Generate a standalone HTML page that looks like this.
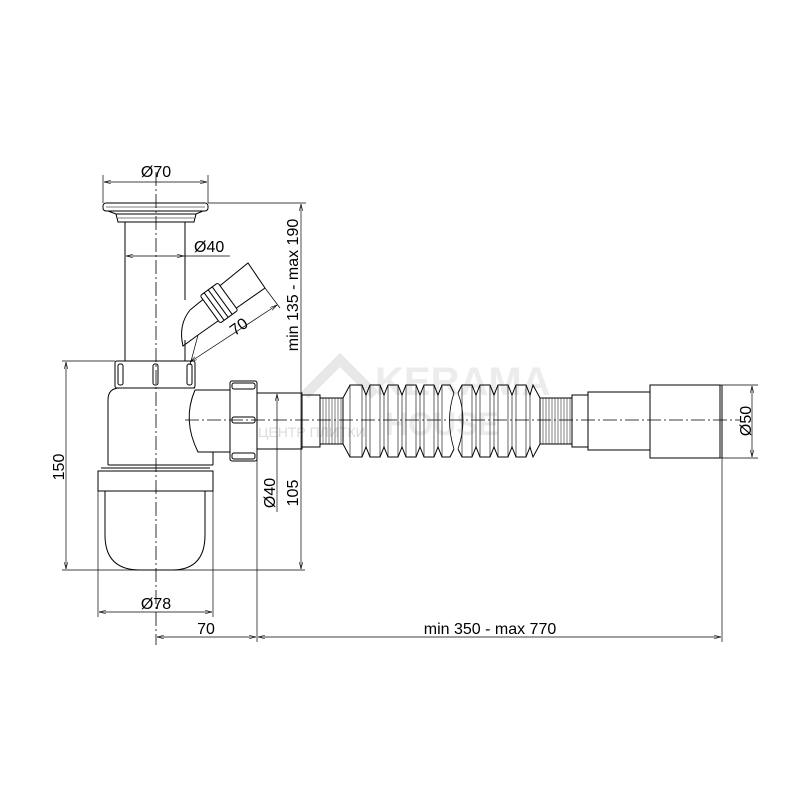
<!DOCTYPE html>
<html><head><meta charset="utf-8"><style>body{margin:0;background:#fff}svg{display:block}</style></head><body>
<svg width="800" height="800" viewBox="0 0 800 800" xmlns="http://www.w3.org/2000/svg" font-family="Liberation Sans, sans-serif">
<defs><marker id="a" viewBox="0 0 10 6" refX="10" refY="3" markerWidth="10" markerHeight="6" orient="auto-start-reverse"><path d="M0,0.5L10,3L0,5.5" fill="none" stroke="#000" stroke-width="0.8"/></marker></defs>
<rect width="800" height="800" fill="#fff"/>
<g fill="#ececec" stroke="none">
<text x="375" y="395" font-size="40" font-weight="bold">KERAMA</text>
<text x="385" y="435" font-size="32" font-weight="bold">HOUSE</text>
<text x="258" y="437" font-size="14" fill="#dcdcdc">ЦЕНТР ПЛИТКИ</text>
<path d="M305,395L340,360L375,395" fill="none" stroke="#e8e8e8" stroke-width="10"/>
</g>
<g fill="none" stroke="#000" stroke-width="1">
<line x1="156" y1="172" x2="156" y2="645" stroke-dasharray="14,3,2,3" stroke-width="0.8"/>
<line x1="185" y1="420" x2="740" y2="420" stroke-dasharray="14,3,2,3" stroke-width="0.8"/>
<rect x="103" y="203" width="105" height="8" rx="3"/>
<line x1="106" y1="207" x2="205" y2="207" stroke-width="0.6"/>
<path d="M108,211 L116,214 L196,214 L203,211"/>
<path d="M116,214 L118,222 L194,222 L196,214"/>
<line x1="118" y1="218" x2="194" y2="218" stroke-width="0.6"/>
<line x1="125" y1="222" x2="125" y2="361"/>
<line x1="185" y1="222" x2="185" y2="300"/>
<line x1="185" y1="340" x2="185" y2="361"/>
<path d="M190,310 L248,263 L265,288 L198,335"/>
<path d="M190,310 Q178,325 183,346 L198,335"/>
<g transform="translate(219,303) rotate(-36)">
<rect x="-11" y="-17" width="22" height="34" rx="2" fill="#fff"/>
<line x1="-6" y1="-17" x2="-6" y2="17"/><line x1="-1" y1="-17" x2="-1" y2="17"/><line x1="4" y1="-17" x2="4" y2="17"/>
</g>
<rect x="115" y="361" width="80" height="27" rx="2"/>
<rect x="118" y="364" width="5" height="21" rx="2"/><rect x="153" y="364" width="5" height="21" rx="2"/><rect x="187" y="364" width="5" height="21" rx="2"/>
<path d="M108,465 L108,400 Q108,388 120,388 L195,388"/>
<path d="M213,465 L213,452"/>
<path d="M195,390 Q182,420 198,452 L213,452 L230,452"/>
<path d="M195,390 L230,390"/>
<path d="M108,465 L213,465"/>
<rect x="230" y="381" width="27" height="80" rx="2"/>
<rect x="232" y="383" width="23" height="6" rx="2"/><rect x="232" y="417" width="23" height="6" rx="2"/><rect x="232" y="453" width="23" height="6" rx="2"/>
<rect x="257" y="393" width="45" height="56"/>
<rect x="302" y="395" width="18" height="52"/>
<rect x="320" y="398" width="23" height="46"/>
<rect x="540" y="398" width="32" height="46"/>
<path d="M323,398v46M326,398v46M329,398v46M332,398v46M335,398v46M338,398v46M341,398v46M543,398v46M546,398v46M549,398v46M552,398v46M555,398v46M558,398v46M561,398v46M564,398v46M567,398v46M570,398v46" stroke-width="0.5"/>
<path d="M343,398 L350,385 L362,385 L366,395 L370,385 L380,385 L384,395 L388,385 L398,385 L402,395 L406,385 L416,385 L420,395 L424,385 L434,385 L438,395 L442,385 L450,385 L454,393 M458,393 L462,385 L472,385 L476,395 L480,385 L490,385 L494,395 L498,385 L508,385 L512,395 L516,385 L526,385 L530,395 L533,385 L540,398"/>
<path d="M343,444 L350,457 L362,457 L366,447 L370,457 L380,457 L384,447 L388,457 L398,457 L402,447 L406,457 L416,457 L420,447 L424,457 L434,457 L438,447 L442,457 L450,457 L454,449 M458,449 L462,457 L472,457 L476,447 L480,457 L490,457 L494,447 L498,457 L508,457 L512,447 L516,457 L526,457 L530,447 L533,457 L540,444"/>
<path d="M366,395v52M384,395v52M402,395v52M420,395v52M438,395v52M476,395v52M494,395v52M512,395v52M530,395v52M350,385v72M362,385v72M370,385v72M380,385v72M388,385v72M398,385v72M406,385v72M416,385v72M424,385v72M434,385v72M442,385v72M462,385v72M472,385v72M480,385v72M490,385v72M498,385v72M508,385v72M516,385v72M526,385v72" stroke-width="0.6"/>
<path d="M454,393 Q445,420 454,449 M458,393 Q468,420 458,449" stroke-width="0.8"/>
<rect x="572" y="395" width="16" height="52"/>
<rect x="588" y="392" width="62" height="58"/>
<rect x="650" y="385" width="70" height="73"/>
<line x1="722" y1="385" x2="722" y2="458"/>
<rect x="98" y="471" width="115" height="20"/>
<line x1="101" y1="468" x2="210" y2="468"/>
<path d="M105,491 L105,535 Q105,570 140,570 L172,570 Q205,570 205,535 L205,491"/>
</g>
<g fill="none" stroke="#000" stroke-width="0.7">
<line x1="103" y1="175" x2="103" y2="203"/><line x1="208" y1="175" x2="208" y2="203"/>
<line x1="104" y1="182" x2="207" y2="182" marker-start="url(#a)" marker-end="url(#a)"/>
<line x1="126" y1="256" x2="184" y2="256" marker-start="url(#a)" marker-end="url(#a)"/>
<line x1="184" y1="256" x2="230" y2="256"/>
<line x1="208" y1="203" x2="306" y2="203"/>
<line x1="301" y1="204" x2="301" y2="420" marker-start="url(#a)"/>
<line x1="301" y1="420" x2="301" y2="569" marker-end="url(#a)"/>
<line x1="62" y1="361" x2="115" y2="361"/>
<line x1="66" y1="362" x2="66" y2="569" marker-start="url(#a)" marker-end="url(#a)"/>
<line x1="62" y1="570" x2="305" y2="570"/>
<line x1="277" y1="394" x2="277" y2="512" marker-start="url(#a)"/>
<line x1="257" y1="450" x2="257" y2="642"/>
<line x1="722" y1="458" x2="722" y2="642"/>
<line x1="720" y1="385" x2="758" y2="385"/><line x1="720" y1="458" x2="758" y2="458"/>
<line x1="752" y1="386" x2="752" y2="457" marker-start="url(#a)" marker-end="url(#a)"/>
<line x1="98" y1="491" x2="98" y2="617"/><line x1="213" y1="491" x2="213" y2="617"/>
<line x1="99" y1="612" x2="212" y2="612" marker-start="url(#a)" marker-end="url(#a)"/>
<line x1="157" y1="637" x2="256" y2="637" marker-start="url(#a)" marker-end="url(#a)"/>
<line x1="258" y1="637" x2="721" y2="637" marker-start="url(#a)" marker-end="url(#a)"/>
<line x1="198" y1="335" x2="190" y2="365"/><line x1="265" y1="288" x2="280" y2="308"/>
<line x1="190" y1="362" x2="277" y2="305" marker-start="url(#a)" marker-end="url(#a)"/>
</g>
<g font-size="16" fill="#000">
<text x="156" y="177" text-anchor="middle">Ø70</text>
<text x="194" y="252">Ø40</text>
<text transform="translate(242,331) rotate(-36)" text-anchor="middle">70</text>
<text transform="translate(298,285) rotate(-90)" text-anchor="middle">min 135 - max 190</text>
<text transform="translate(64,467) rotate(-90)" text-anchor="middle">150</text>
<text transform="translate(275,493) rotate(-90)" text-anchor="middle">Ø40</text>
<text transform="translate(298,493) rotate(-90)" text-anchor="middle">105</text>
<text transform="translate(751,421) rotate(-90)" text-anchor="middle">Ø50</text>
<text x="156" y="609" text-anchor="middle">Ø78</text>
<text x="206" y="634" text-anchor="middle">70</text>
<text x="490" y="634" text-anchor="middle">min 350 - max 770</text>
</g>
</svg>
</body></html>
